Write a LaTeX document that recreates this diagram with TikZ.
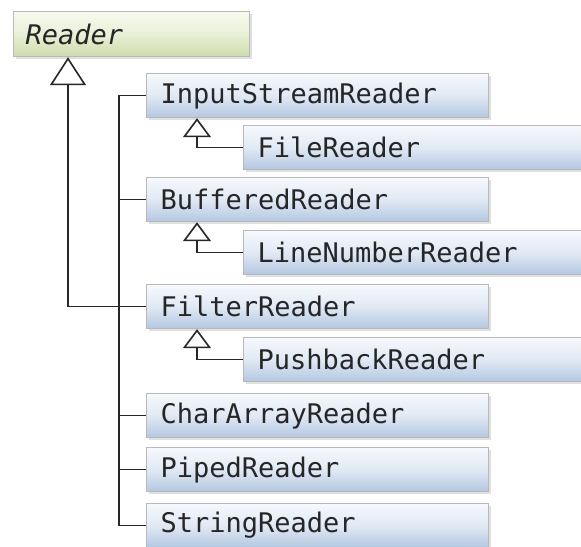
\documentclass[tikz,border=0pt]{standalone}
\usepackage{fontspec}
\newfontfamily\classfont{DejaVu Sans Mono}
\usetikzlibrary{arrows.meta,shadows}
\definecolor{bluetop}{HTML}{F6F9FD}
\definecolor{bluemid}{HTML}{E1E9F4}
\definecolor{bluebot}{HTML}{B3C7E1}
\definecolor{greentop}{HTML}{F7FAEF}
\definecolor{greenmid}{HTML}{E9F0D8}
\definecolor{greenbot}{HTML}{CDDBAB}

\begin{document}
\begin{tikzpicture}[x=0.5pt,y=-0.5pt]
      \tikzstyle{classbox}=[draw=gray!55,line width=0.6pt,anchor=north west,
        inner xsep=7pt,inner ysep=0pt,align=left,text=black!85,
        font=\classfont\fontsize{13.5}{16}\selectfont,
        drop shadow={shadow xshift=1pt,shadow yshift=-1pt,opacity=0.25}]
      \tikzstyle{abstract}=[classbox,top color=greentop,bottom color=greenbot,
        middle color=greenmid,inner xsep=6pt,minimum height=22.5pt,
        text width=106pt,font=\classfont\fontsize{13.5}{16}\selectfont\itshape]
      \tikzstyle{concrete}=[classbox,top color=bluetop,bottom color=bluebot,
        middle color=bluemid,minimum height=22pt,text width=157pt]
      \tikzstyle{leaf}=[concrete,text width=156pt]
      \tikzstyle{wire}=[line width=0.8pt,black!85]
      \tikzstyle{extends}=[wire,-{Triangle[open,width=18pt,length=14pt]}]
      \tikzstyle{subext}=[wire,-{Triangle[open,width=14pt,length=9.5pt]}]
      \useasboundingbox (0,0) rectangle (581,546);
      % base class
      \node[abstract] (reader) at (13,11) {Reader};
      % direct subclasses
      \node[concrete] (isr) at (146,73) {InputStreamReader};
      \node[leaf] (file) at (243,125) {FileReader};
      \node[concrete] (buf) at (146,177) {BufferedReader};
      \node[leaf] (lnr) at (243,230) {LineNumberReader};
      \node[concrete] (filt) at (146,284) {FilterReader};
      \node[leaf] (push) at (243,337) {PushbackReader};
      \node[concrete] (car) at (146,393) {CharArrayReader};
      \node[concrete] (piped) at (146,447) {PipedReader};
      \node[concrete] (str) at (146,503) {StringReader};
      \coordinate (bus) at (119,0);
      % inheritance
      \draw[wire] (isr.west) -| (bus |- str.west) -- (str.west);
      \draw[wire] (buf.west) -- (bus |- buf.west);
      \draw[wire] (car.west) -- (bus |- car.west);
      \draw[wire] (piped.west) -- (bus |- piped.west);
      \draw[extends] (filt.west) -| ([xshift=27.5pt]reader.south west);
      \draw[subext] (file.west) -| ([xshift=25.5pt]isr.south west);
      \draw[subext] (lnr.west) -| ([xshift=25.5pt]buf.south west);
      \draw[subext] (push.west) -| ([xshift=25.5pt]filt.south west);
    \end{tikzpicture}
\end{document}
